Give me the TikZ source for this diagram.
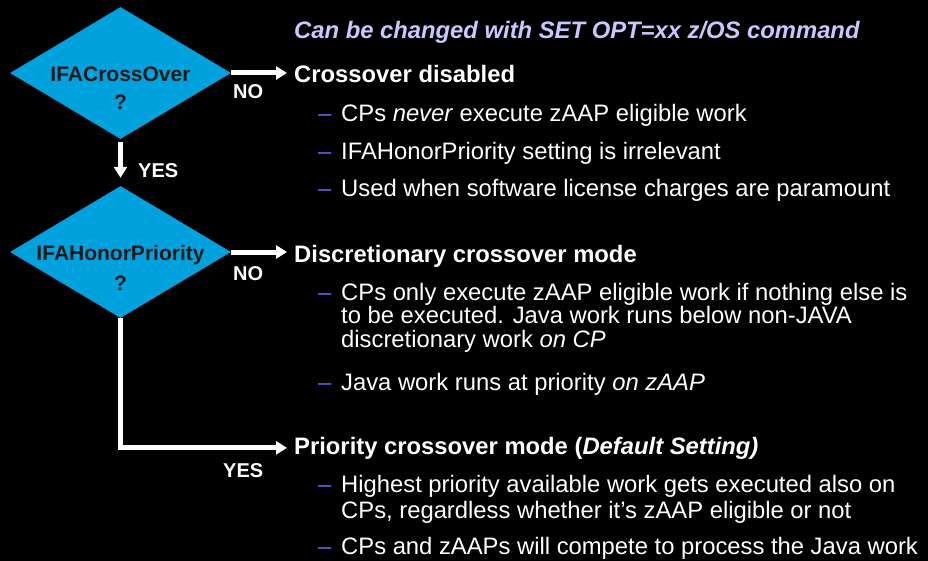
\documentclass[tikz,border=0pt]{standalone}
\usepackage{fontspec}
\setmainfont{Liberation Sans}
\newfontfamily\rf{Liberation Sans}
\usetikzlibrary{shapes.geometric,arrows.meta}
\definecolor{dia}{RGB}{0,162,222}
\definecolor{lav}{RGB}{200,200,255}
\definecolor{dashc}{RGB}{100,100,230}
\begin{document}
\begin{tikzpicture}[x=1pt,y=-1pt,
  dec/.style={diamond, fill=dia, minimum width=221pt, minimum height=132pt, inner sep=0pt},
  dtext/.style={font=\fontsize{21}{25}\selectfont\bfseries, text=black!90, anchor=base, inner sep=0pt},
  lbl/.style={font=\fontsize{20}{24}\selectfont\bfseries, text=white, anchor=base west, inner sep=0pt},
  head/.style={font=\rf\fontsize{23.8}{26}\selectfont\bfseries, text=white, anchor=base west, inner sep=0pt},
  body/.style={font=\rf\fontsize{23.8}{26}\selectfont, text=white, anchor=base west, inner sep=0pt},
  dsh/.style={font=\rf\fontsize{23.8}{26}\selectfont, text=dashc, anchor=base west, inner sep=0pt},
  arr/.style={draw=white, line width=5pt, -{Triangle[width=13pt,length=11pt]}},
]
\fill[black] (0,0) rectangle (928,561);
\useasboundingbox (0,0) rectangle (928,561);

% diamonds
\node[dec] (q1) at (120.5,73) {};
\node[dtext] (q1a) at (120.5,82) {IFACrossOver};
\node[dtext] (q1b) at (120.5,110) {?};
\node[dec] (q2) at (120.5,252) {};
\node[dtext] (q2a) at (120.5,261) {IFAHonorPriority};
\node[dtext] (q2b) at (120.5,290) {?};

% right-hand text
\node[head, text=lav] (title) at (294,39) {\itshape Can be changed with SET OPT=xx z/OS command};

\node[head] (h1) at (294,83) {Crossover disabled};
\node[dsh] (d11) at (318,122) {–};
\node[body] (b11) at (341,122) {CPs \textit{never} execute zAAP eligible work};
\node[dsh] (d12) at (318,159.5) {–};
\node[body] (b12) at (341,159.5) {IFAHonorPriority setting is irrelevant};
\node[dsh] (d13) at (318,197) {–};
\node[body] (b13) at (341,197) {Used when software license charges are paramount};

\node[head] (h2) at (294,262) {Discretionary crossover mode};
\node[dsh] (d21) at (318,300) {–};
\node[body] (b21a) at (341,300) {CPs only execute zAAP eligible work if nothing else is};
\node[body] (b21b) at (341,323.5) {to be executed. Java work runs below non-JAVA};
\node[body] (b21c) at (341,347) {discretionary work \textit{on CP}};
\node[dsh] (d22) at (318,390.5) {–};
\node[body] (b22) at (341,390.5) {Java work runs at priority \textit{on zAAP}};

\node[head] (h3) at (294,454) {Priority crossover mode (\textit{Default Setting)}};
\node[dsh] (d31) at (318,492) {–};
\node[body] (b31a) at (341,492) {Highest priority available work gets executed also on};
\node[body] (b31b) at (341,518) {CPs, regardless whether it’s zAAP eligible or not};
\node[dsh] (d32) at (318,554) {–};
\node[body] (b32) at (341,554) {CPs and zAAPs will compete to process the Java work};

% connectors
\draw[arr, shorten >=7pt] (q1.east) -- (q1.east -| h1.west);
\draw[arr, shorten >=7pt] (q2.east) -- (q2.east -| h2.west);
\draw[arr, shorten <=3pt, shorten >=8pt] (q1.south) -- (q2.north);
\draw[arr, shorten >=7pt] (q2.south) |- (h3.west);

% labels
\node[lbl] (no1) at (233,99) {NO};
\node[lbl] (yes1) at (138,178) {YES};
\node[lbl] (no2) at (233,280) {NO};
\node[lbl] (yes2) at (223,477) {YES};
\end{tikzpicture}
\end{document}
